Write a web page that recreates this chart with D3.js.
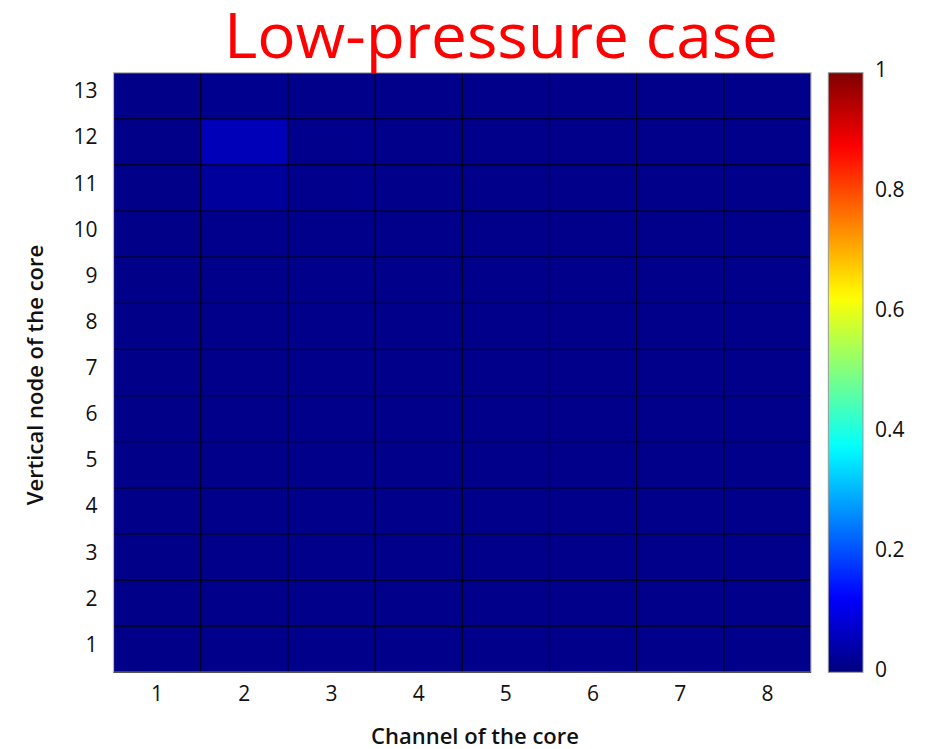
<!DOCTYPE html>
<html>
<head>
<meta charset="utf-8">
<script src="https://cdn.jsdelivr.net/npm/d3@7"></script>
<style>
  html, body { margin: 0; padding: 0; background: #fff; }
  svg { display: block; }
</style>
</head>
<body>
<svg id="chart" width="927" height="749"></svg>
<script>
// Channels (columns) and vertical nodes (rows) of the core
const channels = [1, 2, 3, 4, 5, 6, 7, 8];
const nodes = [1, 2, 3, 4, 5, 6, 7, 8, 9, 10, 11, 12, 13];

// Normalised values, one row per vertical node (node 1 first), one entry per channel
const values = [
  [0.008, 0.010, 0.011, 0.011, 0.011, 0.011, 0.011, 0.011],
  [0.008, 0.010, 0.011, 0.011, 0.011, 0.011, 0.011, 0.011],
  [0.008, 0.010, 0.011, 0.011, 0.011, 0.011, 0.011, 0.011],
  [0.008, 0.010, 0.011, 0.011, 0.011, 0.011, 0.011, 0.011],
  [0.008, 0.010, 0.011, 0.011, 0.011, 0.011, 0.011, 0.011],
  [0.008, 0.010, 0.011, 0.011, 0.011, 0.011, 0.011, 0.011],
  [0.008, 0.010, 0.011, 0.011, 0.011, 0.011, 0.011, 0.011],
  [0.008, 0.010, 0.011, 0.011, 0.011, 0.011, 0.011, 0.011],
  [0.008, 0.010, 0.011, 0.011, 0.011, 0.011, 0.011, 0.011],
  [0.008, 0.012, 0.011, 0.011, 0.011, 0.011, 0.011, 0.011],
  [0.008, 0.028, 0.012, 0.011, 0.011, 0.011, 0.011, 0.011],
  [0.008, 0.055, 0.012, 0.011, 0.011, 0.011, 0.011, 0.011],
  [0.008, 0.014, 0.011, 0.011, 0.011, 0.011, 0.011, 0.011]
];

// Colour bar ticks
const colorTicks = [0, 0.2, 0.4, 0.6, 0.8, 1];

const title = "Low-pressure case";
const xTitle = "Channel of the core";
const yTitle = "Vertical node of the core";

// Jet colour map
function jet(v) {
  const c = t => Math.max(0, Math.min(1, t));
  const r = c(1.5 - Math.abs(4 * v - 3));
  const g = c(1.5 - Math.abs(4 * v - 2));
  const b = c(1.5 - Math.abs(4 * v - 1));
  return d3.rgb(r * 255, g * 255, b * 255).formatHex();
}

const svg = d3.select("#chart");
const font = "'Open Sans', 'Noto Sans', sans-serif";

const plot = { left: 113.5, top: 72.7, right: 811, bottom: 672.3 };

const x = d3.scaleBand().domain(channels).range([plot.left, plot.right]).padding(0);
const y = d3.scaleBand().domain(nodes.slice().reverse()).range([plot.top, plot.bottom]).padding(0);

const cells = [];
values.forEach((row, i) => row.forEach((v, j) => cells.push({ node: nodes[i], channel: channels[j], v })));

// Heat map cells
svg.append("g").selectAll("rect").data(cells).join("rect")
  .attr("x", d => x(d.channel))
  .attr("y", d => y(d.node))
  .attr("width", x.bandwidth())
  .attr("height", y.bandwidth())
  .attr("fill", d => jet(d.v))
  .attr("shape-rendering", "crispEdges");

// Cell borders
const grid = svg.append("g").attr("stroke", "#000").attr("stroke-width", 1.2).attr("stroke-opacity", 0.85);
channels.slice(1).forEach(c => {
  grid.append("line").attr("x1", x(c)).attr("x2", x(c)).attr("y1", plot.top).attr("y2", plot.bottom);
});
nodes.slice(0, -1).forEach(n => {
  grid.append("line").attr("x1", plot.left).attr("x2", plot.right).attr("y1", y(n)).attr("y2", y(n));
});

// Plot frame
svg.append("rect")
  .attr("x", plot.left).attr("y", plot.top)
  .attr("width", plot.right - plot.left).attr("height", plot.bottom - plot.top)
  .attr("fill", "none").attr("stroke", "#b8b8b8").attr("stroke-width", 1.2);
svg.append("line")
  .attr("x1", plot.left).attr("x2", plot.right).attr("y1", plot.bottom).attr("y2", plot.bottom)
  .attr("stroke", "#555").attr("stroke-width", 1.2);

// X axis labels
const xAxis = d3.axisBottom(x).tickSize(0).tickPadding(14);
svg.append("g").attr("transform", `translate(0,${plot.bottom})`).call(xAxis)
  .call(g => g.select(".domain").remove())
  .selectAll("text").attr("font-family", font).attr("font-size", 21).attr("fill", "#111");

// Y axis labels
const yAxis = d3.axisLeft(y).tickSize(0).tickPadding(16);
svg.append("g").attr("transform", `translate(${plot.left},0)`).call(yAxis)
  .call(g => g.select(".domain").remove())
  .selectAll("text").attr("font-family", font).attr("font-size", 21).attr("fill", "#111")
  .attr("dy", "0.12em");

// Colour bar
const cb = { x: 828.3, w: 34.7 };
const cScale = d3.scaleLinear().domain([0, 1]).range([plot.bottom, plot.top]);
const defs = svg.append("defs");
const grad = defs.append("linearGradient").attr("id", "jetGrad")
  .attr("x1", 0).attr("x2", 0).attr("y1", 1).attr("y2", 0);
d3.range(0, 1.0001, 0.02).forEach(t => {
  grad.append("stop").attr("offset", t).attr("stop-color", jet(t));
});
svg.append("rect")
  .attr("x", cb.x).attr("y", plot.top)
  .attr("width", cb.w).attr("height", plot.bottom - plot.top)
  .attr("fill", "url(#jetGrad)")
  .attr("stroke", "#999").attr("stroke-width", 1);

const cAxis = d3.axisRight(cScale).tickValues(colorTicks).tickSize(0).tickPadding(12)
  .tickFormat(d => d3.format("~g")(d));
svg.append("g").attr("transform", `translate(${cb.x + cb.w},0)`).call(cAxis)
  .call(g => g.select(".domain").remove())
  .selectAll("text").attr("font-family", font).attr("font-size", 21).attr("fill", "#111")
  .attr("dy", "0.2em");

// Titles
svg.append("text")
  .attr("x", 501).attr("y", 58)
  .attr("text-anchor", "middle")
  .attr("font-family", font).attr("font-size", 62).attr("fill", "#ff0000")
  .attr("textLength", 554).attr("lengthAdjust", "spacingAndGlyphs")
  .text(title);

svg.append("text")
  .attr("x", 475).attr("y", 744)
  .attr("text-anchor", "middle")
  .attr("font-family", font).attr("font-size", 22).attr("font-weight", 600).attr("fill", "#111")
  .text(xTitle);

svg.append("text")
  .attr("transform", `translate(43,375) rotate(-90)`)
  .attr("text-anchor", "middle")
  .attr("font-family", font).attr("font-size", 22).attr("font-weight", 600).attr("fill", "#111")
  .text(yTitle);
</script>
</body>
</html>
